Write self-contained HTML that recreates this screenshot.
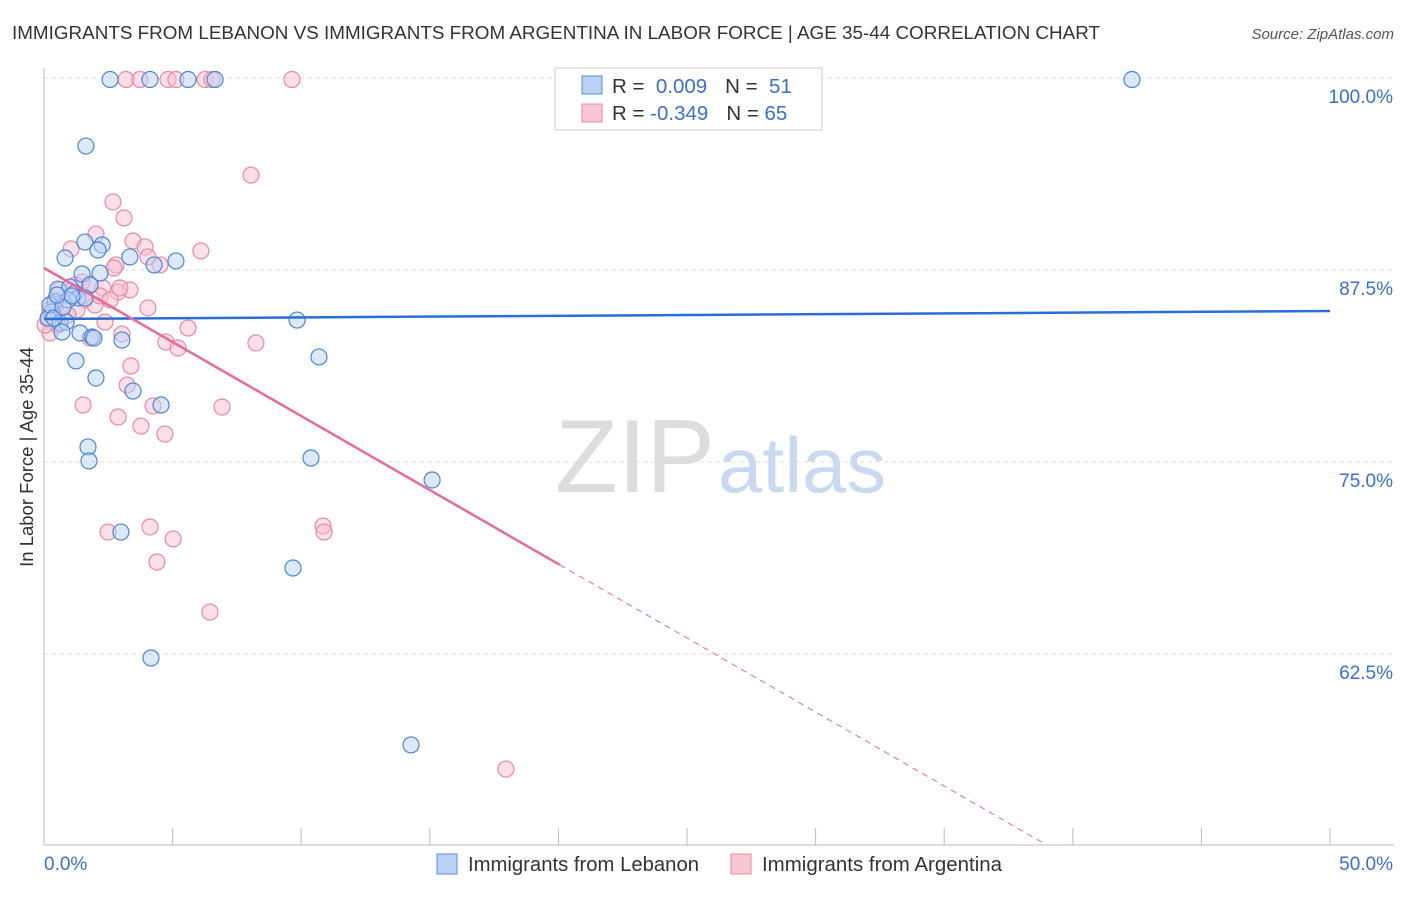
<!DOCTYPE html>
<html><head><meta charset="utf-8"><style>
body{margin:0;background:#fff;font-family:"Liberation Sans",sans-serif;}
svg text{font-family:"Liberation Sans",sans-serif;}
</style></head><body>
<svg id="chart" width="1406" height="892" xmlns="http://www.w3.org/2000/svg">
<text x="12" y="39" font-size="18" fill="#333" textLength="1088" lengthAdjust="spacingAndGlyphs">IMMIGRANTS FROM LEBANON VS IMMIGRANTS FROM ARGENTINA IN LABOR FORCE | AGE 35-44 CORRELATION CHART</text>
<text x="1394" y="39" font-size="15" fill="#555" font-style="italic" text-anchor="end">Source: ZipAtlas.com</text>
<text x="715" y="492" font-size="104" fill="#ddd" text-anchor="end" font-family="Liberation Serif" textLength="160" lengthAdjust="spacingAndGlyphs">ZIP</text>
<text x="718" y="492" font-size="78" fill="#c9d9ef" textLength="168" lengthAdjust="spacingAndGlyphs">atlas</text>
<g id="grid"></g><g id="axes"></g><g id="marks"></g><g id="lines"></g>
<text x="33" y="457" font-size="18.5" fill="#333" text-anchor="middle" transform="rotate(-90 33 457)">In Labor Force | Age 35-44</text>
<g>
<rect x="555" y="68" width="267" height="62" fill="#fff" stroke="#ccc"/>
<rect x="582" y="76" width="20" height="18" fill="#b9d3f7" stroke="#5b8fd9"/>
<rect x="582" y="104" width="20" height="18" fill="#f9c6d4" stroke="#e68aa6"/>
<text x="612" y="93" font-size="20.5" fill="#333">R = <tspan fill="#3a6fd0">&#160;0.009</tspan><tspan dx="18">N = </tspan><tspan fill="#3a6fd0">&#160;51</tspan></text>
<text x="612" y="120" font-size="20.5" fill="#333">R = <tspan fill="#3a6fd0">-0.349</tspan><tspan dx="18">N = </tspan><tspan fill="#3a6fd0">65</tspan></text>
</g>
<g>
<rect x="437" y="854" width="20" height="20" fill="#b9d3f7" stroke="#5b8fd9"/>
<text x="468" y="871" font-size="20" fill="#333" textLength="231" lengthAdjust="spacingAndGlyphs">Immigrants from Lebanon</text>
<rect x="731" y="854" width="20" height="20" fill="#f9c6d4" stroke="#e68aa6"/>
<text x="762" y="871" font-size="20" fill="#333" textLength="240" lengthAdjust="spacingAndGlyphs">Immigrants from Argentina</text>
</g>
</svg>
<script>
const blueX=[2.57,4.12,5.60,6.65,42.30,1.63,1.59,2.26,2.10,3.34,0.82,4.28,5.13,1.48,2.18,0.54,1.01,1.21,1.32,0.43,0.31,0.16,0.62,0.86,0.70,1.40,1.87,3.03,9.84,10.69,1.24,2.02,3.46,4.55,1.71,1.75,10.38,15.09,2.99,9.68,4.16,14.27,0.93,0.23,1.79,0.39,1.94,1.59,0.74,1.09,0.51];
const blueY=[99.9,99.9,99.9,99.9,99.9,95.57,89.32,89.13,88.80,88.35,88.28,87.83,88.09,87.24,87.30,86.26,86.39,86.00,85.68,85.42,84.77,84.37,84.05,84.11,83.46,83.40,83.14,82.94,84.24,81.84,81.58,80.47,79.62,78.71,75.98,75.07,75.26,73.83,70.44,68.10,62.24,56.58,85.55,85.22,86.52,84.37,83.07,85.68,85.09,85.81,85.87];
const pinkX=[3.19,3.73,4.82,5.13,6.26,6.53,9.64,8.05,2.68,3.11,2.02,1.05,3.46,3.93,4.51,2.80,2.72,6.10,4.04,1.79,2.29,3.34,1.59,1.98,0.70,0.43,1.01,0.23,0.16,0.23,4.04,2.37,5.60,3.03,1.79,4.74,5.21,8.24,3.38,3.23,1.52,4.24,6.92,2.88,3.77,4.70,2.49,4.12,5.02,4.39,10.85,10.89,6.45,17.96,1.28,0.62,2.18,2.88,2.57,0.93,1.48,2.95,0.54,0.04,1.21];
const pinkY=[99.9,99.9,99.9,99.9,99.9,99.9,99.9,93.68,91.93,90.89,89.84,88.87,89.39,89.00,87.83,87.83,87.63,88.74,88.35,86.59,86.33,86.20,85.55,85.22,85.22,85.55,85.81,84.90,84.24,83.40,85.03,84.11,83.72,83.33,83.07,82.81,82.42,82.75,81.25,80.01,78.71,78.65,78.58,77.93,77.34,76.82,70.44,70.77,69.99,68.49,70.83,70.44,65.23,55.01,84.90,86.20,85.81,86.07,85.55,84.57,86.72,86.33,83.92,83.92,86.52];
const blueTrend=[84.31,84.83];
const pinkTrend=[87.63,39.45];
const pinkSolidEnd=20.06;
const yTicks=[100,87.5,75,62.5];
const yTickLabels=["100.0%","87.5%","75.0%","62.5%"];
const xTickLabels=["0.0%","50.0%"];
const NS="http://www.w3.org/2000/svg";
const xs=v=>44+v*25.72;
const ys=v=>78+(100-v)*15.36;
function mk(tag,attrs,parent){const e=document.createElementNS(NS,tag);for(const k in attrs)e.setAttribute(k,attrs[k]);document.getElementById(parent).appendChild(e);return e;}
yTicks.forEach((t,i)=>{
 const g=mk('line',{x1:44,x2:1394,y1:ys(t),y2:ys(t),stroke:'#ddd','stroke-dasharray':'4 4'},'grid');
 
 
 const l=mk('text',{x:1393,y:ys(t)+25,'font-size':19,fill:'#3a6fd0','text-anchor':'end'},'axes');
 l.textContent=yTickLabels[i];
 
 
});
const ax=mk('line',{x1:44,x2:44,y1:68,y2:845,stroke:'#bbb'},'axes');


const bx=mk('line',{x1:44,x2:1394,y1:845,y2:845,stroke:'#bbb'},'axes');


for(let i=0;i<=10;i++){const t=mk('line',{x1:xs(i*5),x2:xs(i*5),y1:828,y2:845,stroke:'#bbb'},'axes');
 
 }
[[0,'start',0],[50,'end',63]].forEach((p,i)=>{const t=mk('text',{x:xs(p[0])+p[2],y:870,'font-size':19,fill:'#3a6fd0','text-anchor':p[1]},'axes');t.textContent=xTickLabels[i];
 
 });
function dots(X,Y,fill,stroke,name){X.forEach((x,i)=>{const c=mk('circle',{cx:xs(x),cy:ys(Y[i]),r:8,fill:fill,'fill-opacity':0.5,stroke:stroke,'stroke-width':1.2},'marks');
 
 });}
dots(pinkX,pinkY,'#f9c0d0','#e68aa6','argentina-point');
dots(blueX,blueY,'#b9d3f7','#4a86d8','lebanon-point');
const bl=mk('line',{x1:xs(0),y1:ys(blueTrend[0]),x2:xs(50),y2:ys(blueTrend[1]),stroke:'#2a6fd6','stroke-width':2.5},'lines');


const pAt=x=>pinkTrend[0]+(pinkTrend[1]-pinkTrend[0])*x/50;
const pl=mk('line',{x1:xs(0),y1:ys(pAt(0)),x2:xs(pinkSolidEnd),y2:ys(pAt(pinkSolidEnd)),stroke:'#e8699a','stroke-width':2.5},'lines');


const xEnd=50*(pinkTrend[0]-50.1)/(pinkTrend[0]-pinkTrend[1]);
const pd=mk('line',{x1:xs(pinkSolidEnd),y1:ys(pAt(pinkSolidEnd)),x2:xs(xEnd),y2:ys(pAt(xEnd)),stroke:'#e8699a','stroke-width':1,'stroke-dasharray':'6 5'},'lines');


</script>
</body></html>
